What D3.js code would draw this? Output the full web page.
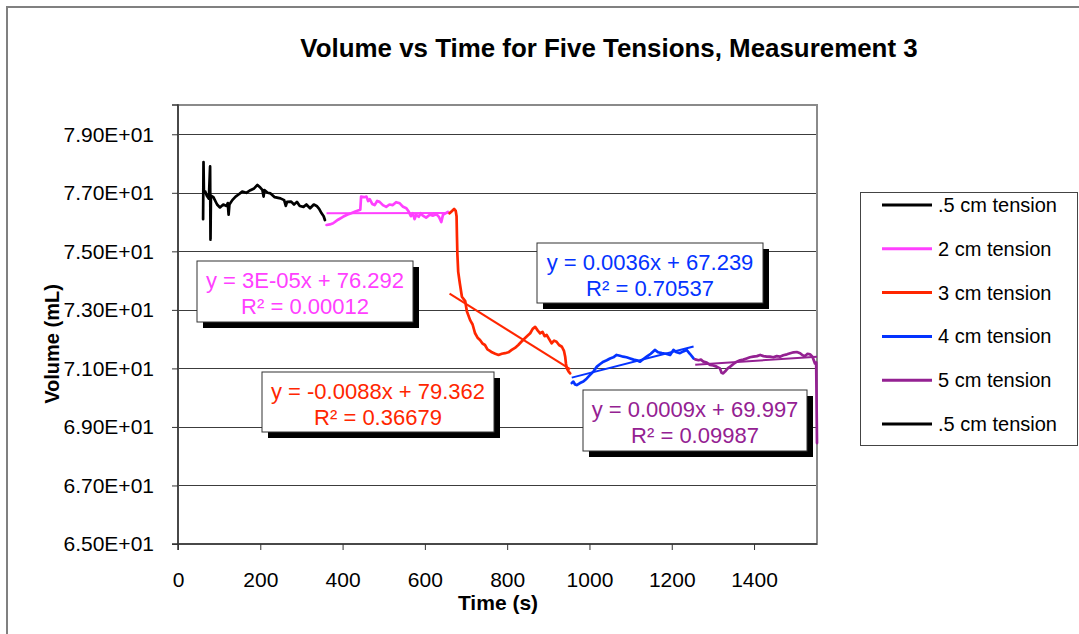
<!DOCTYPE html>
<html>
<head>
<meta charset="utf-8">
<script src="https://cdn.jsdelivr.net/npm/d3@7"></script>
<style>
  html, body { margin: 0; padding: 0; background: #fff; }
  svg { display: block; font-family: "Liberation Sans", Arial, sans-serif; }
</style>
</head>
<body>
<svg id="chart" width="1079" height="634"></svg>
<script>
// ---------------- DATA ----------------
const chartTitle = "Volume vs Time for Five Tensions, Measurement 3";
const xTitle = "Time (s)";
const yTitle = "Volume (mL)";
const xTickValues = [0, 200, 400, 600, 800, 1000, 1200, 1400];
const yTickValues = [65, 67, 69, 71, 73, 75, 77, 79];
const xDomain = [0, 1553];
const yDomain = [65, 80];

const legendNames = [".5 cm tension", "2 cm tension", "3 cm tension", "4 cm tension", "5 cm tension", ".5 cm tension"];

const tension05 = [[61,76.1],[62,78.05],[63,77.0],[66,77.05],[70,76.9],[75,76.8],[78,77.9],[79,75.4],[80,76.9],[86,76.85],[95,76.6],[102,76.5],[110,76.6],[118,76.55],[121,76.65],[123,76.25],[125,76.6],[132,76.75],[140,76.87],[148,76.95],[156,77.04],[166,77.0],[176,77.09],[185,77.15],[193,77.27],[200,77.18],[205,77.1],[208,76.87],[210,77.09],[218,77.0],[225,76.98],[235,76.85],[249,76.81],[258,76.75],[262,76.55],[265,76.69],[275,76.7],[282,76.6],[289,76.69],[296,76.55],[305,76.52],[312,76.6],[321,76.47],[330,76.6],[337,76.55],[343,76.45],[349,76.3],[354,76.2],[357,76.07]];
const tension2 = [[361,75.9],[369,75.92],[377,75.96],[389,76.08],[401,76.18],[411,76.25],[421,76.3],[431,76.36],[441,76.41],[443,76.42],[445,76.87],[452,76.85],[458,76.87],[462,76.72],[466,76.78],[472,76.62],[478,76.58],[484,76.72],[490,76.69],[498,76.58],[506,76.52],[514,76.6],[522,76.58],[530,76.68],[539,76.64],[547,76.52],[555,76.47],[561,76.35],[566,76.2],[571,76.3],[575,76.1],[579,76.25],[585,76.18],[590,76.3],[595,76.22],[603,76.15],[612,76.25],[620,76.22],[628,76.27],[634,76.18],[640,76.0],[644,76.25],[648,76.28],[656,76.35]];
const tension3 = [[660,76.3],[666,76.38],[671,76.45],[675,76.38],[677,76.2],[678,75.5],[679,74.9],[681,74.3],[685,73.9],[690,73.45],[698,73.3],[702,72.95],[710,72.65],[716,72.5],[722,72.2],[728,72.05],[734,71.97],[740,71.85],[746,71.8],[752,71.65],[758,71.6],[763,71.55],[771,71.5],[779,71.46],[787,71.5],[795,71.52],[803,71.55],[811,71.63],[819,71.7],[827,71.8],[835,71.92],[843,72.03],[850,72.12],[856,72.2],[862,72.35],[868,72.42],[874,72.3],[880,72.2],[886,72.25],[891,72.1],[896,72.14],[902,72.0],[908,71.86],[914,71.95],[920,71.91],[926,71.8],[933,71.74],[938,71.6],[941,71.4],[943,71.15],[945,71.0],[949,70.9],[953,70.83]];
const tension4 = [[957,70.5],[961,70.55],[965,70.45],[969,70.43],[977,70.5],[985,70.55],[993,70.65],[1001,70.77],[1010,70.9],[1018,71.06],[1026,71.15],[1034,71.23],[1042,71.28],[1050,71.34],[1058,71.38],[1066,71.46],[1074,71.43],[1082,71.4],[1090,71.38],[1099,71.34],[1107,71.3],[1115,71.28],[1123,71.23],[1131,71.32],[1139,71.4],[1149,71.5],[1159,71.63],[1167,71.55],[1176,71.52],[1186,71.5],[1196,71.46],[1204,71.63],[1212,71.55],[1220,71.52],[1228,71.58],[1236,71.63],[1244,71.5],[1253,71.34]];
const tension5 = [[1257,71.31],[1265,71.28],[1271,71.3],[1277,71.23],[1285,71.2],[1293,71.12],[1301,71.1],[1309,71.06],[1317,71.0],[1321,70.85],[1325,70.83],[1330,70.9],[1336,71.0],[1342,71.06],[1350,71.15],[1358,71.23],[1366,71.28],[1374,71.3],[1382,71.34],[1390,71.38],[1398,71.4],[1407,71.42],[1415,71.46],[1423,71.42],[1431,71.4],[1439,71.4],[1447,71.38],[1455,71.42],[1463,71.4],[1471,71.45],[1480,71.48],[1488,71.52],[1496,71.55],[1504,71.56],[1512,71.52],[1518,71.45],[1524,71.42],[1530,71.5],[1536,71.48],[1542,71.4],[1548,71.17],[1551,71.2],[1553,68.45]];

// trendline equations (slope, intercept) shown on chart
const trendSlopes = [0.00003, -0.0088, 0.0036, 0.0009];
const trendIntercepts = [76.292, 79.362, 67.239, 69.997];
const trendEqTexts = ["y = 3E-05x + 76.292", "y = -0.0088x + 79.362", "y = 0.0036x + 67.239", "y = 0.0009x + 69.997"];
const trendR2Texts = ["R\u00B2 = 0.00012", "R\u00B2 = 0.36679", "R\u00B2 = 0.70537", "R\u00B2 = 0.09987"];

// ---------------- STYLE / LAYOUT ----------------
const colors = ["#000000", "#ff40ff", "#ff2600", "#0433ff", "#942192", "#000000"];
const plot = { left: 178, top: 105, right: 817, bottom: 544 };
// annotation boxes: [x, y, w, h] for pink, red, blue, purple trend labels
const boxLayout = [[197, 261, 216, 61], [262, 372, 232, 60], [537, 243, 226, 60], [583, 390, 224, 61]];

const svg = d3.select("#chart");

// outer chart border
svg.append("rect").attr("x", 7).attr("y", 7).attr("width", 1090).attr("height", 650)
  .attr("fill", "#fff").attr("stroke", "#808080").attr("stroke-width", 2);

const x = d3.scaleLinear().domain(xDomain).range([plot.left, plot.right]);
const y = d3.scaleLinear().domain(yDomain).range([plot.bottom, plot.top]);

// gridlines
svg.append("g").selectAll("line").data(yTickValues.filter(v => v !== yDomain[0]))
  .join("line")
  .attr("x1", plot.left).attr("x2", plot.right)
  .attr("y1", d => Math.round(y(d)) + 0.5).attr("y2", d => Math.round(y(d)) + 0.5)
  .attr("stroke", "#3c3c3c").attr("stroke-width", 1);

// plot border
svg.append("rect").attr("x", plot.left).attr("y", plot.top)
  .attr("width", plot.right - plot.left).attr("height", plot.bottom - plot.top)
  .attr("fill", "none").attr("stroke", "#8a8a8a").attr("stroke-width", 2);

// axes
const yAxis = d3.axisLeft(y).tickValues(yTickValues).tickSize(6).tickPadding(18)
  .tickFormat(v => (v / 10).toFixed(2) + "E+01");
const gy = svg.append("g").attr("transform", `translate(${plot.left},0)`).call(yAxis);
gy.select(".domain").attr("stroke", "#333").attr("stroke-width", 1.5).attr("d", `M-6,${plot.top}H0V${plot.bottom}H-6`);
gy.selectAll(".tick line").attr("stroke", "#333");
gy.selectAll("text").attr("font-size", 21).attr("fill", "#000").attr("font-family", "Liberation Sans, Arial, sans-serif");

const xAxis = d3.axisBottom(x).tickValues(xTickValues).tickSize(6).tickPadding(22).tickFormat(d3.format("d"));
const gx = svg.append("g").attr("transform", `translate(0,${plot.bottom})`).call(xAxis);
gx.select(".domain").attr("stroke", "#333").attr("stroke-width", 1.5).attr("d", `M${plot.left},6V0H${plot.right}`);
gx.selectAll(".tick line").attr("stroke", "#333");
gx.selectAll("text").attr("font-size", 21).attr("fill", "#000").attr("font-family", "Liberation Sans, Arial, sans-serif");

// data lines
const line = d3.line().x(d => x(d[0])).y(d => y(d[1]));
const seriesData = [tension05, tension2, tension3, tension4, tension5];
svg.append("g").selectAll("path").data(seriesData).join("path")
  .attr("d", line).attr("fill", "none")
  .attr("stroke", (d, i) => colors[i]).attr("stroke-width", 2.7)
  .attr("stroke-linejoin", "round").attr("stroke-linecap", "round");

// trendlines over each fitted series range
const fitted = [tension2, tension3, tension4, tension5];
svg.append("g").selectAll("line").data(fitted).join("line")
  .attr("x1", d => x(d[0][0])).attr("x2", d => x(d[d.length - 1][0]))
  .attr("y1", (d, i) => y(trendSlopes[i] * d[0][0] + trendIntercepts[i]))
  .attr("y2", (d, i) => y(trendSlopes[i] * d[d.length - 1][0] + trendIntercepts[i]))
  .attr("stroke", (d, i) => colors[i + 1]).attr("stroke-width", 2);

// trend labels
const labels = svg.append("g");
boxLayout.forEach((b, i) => {
  const g = labels.append("g");
  g.append("rect").attr("x", b[0] + 6).attr("y", b[1] + 6).attr("width", b[2]).attr("height", b[3]).attr("fill", "#000");
  g.append("rect").attr("x", b[0]).attr("y", b[1]).attr("width", b[2]).attr("height", b[3])
    .attr("fill", "#fff").attr("stroke", "#333").attr("stroke-width", 1);
  const cx = b[0] + b[2] / 2;
  g.append("text").attr("x", cx).attr("y", b[1] + 19).attr("dy", "0.35em").attr("text-anchor", "middle")
    .attr("font-size", 22).attr("fill", colors[i + 1]).text(trendEqTexts[i]);
  g.append("text").attr("x", cx).attr("y", b[1] + 45).attr("dy", "0.35em").attr("text-anchor", "middle")
    .attr("font-size", 22).attr("fill", colors[i + 1]).text(trendR2Texts[i]);
});

// title
svg.append("text").attr("x", 609).attr("y", 57).attr("text-anchor", "middle")
  .attr("font-size", 25.9).attr("font-weight", "bold").text(chartTitle);
svg.append("text").attr("x", 498).attr("y", 610).attr("text-anchor", "middle")
  .attr("font-size", 21).attr("font-weight", "bold").text(xTitle);
svg.append("text").attr("transform", "translate(59,344) rotate(-90)").attr("text-anchor", "middle")
  .attr("font-size", 20).attr("font-weight", "bold").text(yTitle);

// legend
const lg = svg.append("g");
lg.append("rect").attr("x", 860.5).attr("y", 192.5).attr("width", 217).attr("height", 253)
  .attr("fill", "#fff").attr("stroke", "#444").attr("stroke-width", 1);
const rowY = d3.scalePoint().domain(d3.range(legendNames.length)).range([205, 424]);
legendNames.forEach((name, i) => {
  lg.append("line").attr("x1", 882).attr("x2", 932).attr("y1", rowY(i)).attr("y2", rowY(i))
    .attr("stroke", colors[i]).attr("stroke-width", 3);
  lg.append("text").attr("x", 938).attr("y", rowY(i)).attr("dy", "0.35em")
    .attr("font-size", 20).attr("fill", "#000").text(name);
});
</script>
</body>
</html>
